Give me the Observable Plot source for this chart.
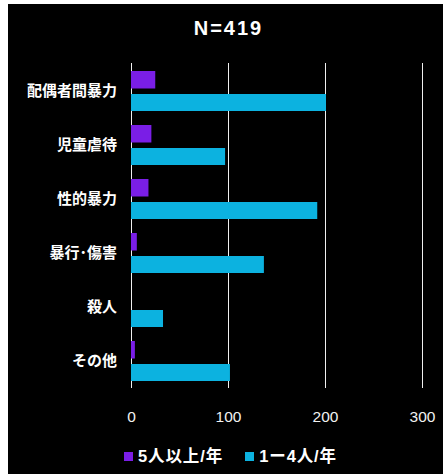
<!DOCTYPE html>
<html>
<head>
<meta charset="utf-8">
<script src="https://cdn.jsdelivr.net/npm/d3@7"></script>
<script src="https://cdn.jsdelivr.net/npm/@observablehq/plot@0.6"></script>
<style>
  html, body { margin: 0; padding: 0; background: #ffffff; }
  body { width: 443px; height: 474px; position: relative; overflow: hidden;
         font-family: "Liberation Sans", "Noto Sans CJK JP", sans-serif; }
  #frame { position: absolute; left: 8px; top: 4px; width: 435px; height: 470px; background: #000; overflow: hidden; }
  #title { position: absolute; left: 0; top: 0; width: 435px; padding-left: 6px; box-sizing: border-box;
           text-align: center; line-height: 48px; font-size: 20px; font-weight: bold; color: #fff; letter-spacing: 2px; }
  #chart { position: absolute; left: 0; top: 50px; }
  #legend { position: absolute; left: 0; top: 441px; width: 435px; padding-left: 10px; box-sizing: border-box;
            display: flex; justify-content: center; align-items: center; color: #fff;
            font-size: 16.5px; font-weight: bold; letter-spacing: 0.9px; line-height: 22px; }
  .item { display: flex; align-items: center; }
  .item + .item { margin-left: 22px; }
  .sw { width: 9px; height: 9px; margin-right: 5px; }
</style>
</head>
<body>
<div id="frame">
  <div id="title"></div>
  <div id="chart"></div>
  <div id="legend"></div>
</div>
<script>
const title = "N=419";
const categories = ["配偶者間暴力", "児童虐待", "性的暴力", "暴行･傷害", "殺人", "その他"];
const seriesNames = ["5人以上/年", "1ー4人/年"];
const fivePlus = [25, 21, 18, 6, 0, 4];
const oneToFour = [201, 97, 192, 137, 33, 102];
const xTicks = [0, 100, 200, 300];
const colors = ["#7a1ee6", "#0cb2e0"];

const rows = categories.map((c, i) => ({category: c, five: fivePlus[i], one: oneToFour[i]}));

document.getElementById("title").textContent = title;

const chart = Plot.plot({
  width: 435,
  height: 374,
  marginTop: 9,
  marginBottom: 40,
  marginLeft: 123,
  marginRight: 21,
  style: {background: "transparent", color: "#ffffff", fontFamily: "'Liberation Sans', 'Noto Sans CJK JP', sans-serif"},
  x: {domain: [0, 300], axis: null, label: null},
  y: {domain: categories, padding: 0, axis: null, label: null},
  marks: [
    Plot.gridX(xTicks, {stroke: "#f0f0f0", strokeOpacity: 1, strokeWidth: 1}),
    Plot.barX(rows, {x: "five", y: "category", fill: colors[0], insetTop: 7, insetBottom: 29.5}),
    Plot.barX(rows, {x: "one", y: "category", fill: colors[1], insetTop: 30, insetBottom: 7}),
    Plot.axisX(xTicks, {anchor: "bottom", label: null, tickSize: 0, tickPadding: 22, fontSize: 15.5, fill: "#f2f2f2", style: "letter-spacing:1.3px"}),
    Plot.axisY(categories, {anchor: "left", label: null, tickSize: 0, tickPadding: 14.5, fontSize: 15, fontWeight: "bold", fill: "#ffffff", style: "letter-spacing:0.8px"})
  ]
});
document.getElementById("chart").appendChild(chart);

const legend = document.getElementById("legend");
seriesNames.forEach((name, i) => {
  const item = document.createElement("div");
  item.className = "item";
  const sw = document.createElement("div");
  sw.className = "sw";
  sw.style.background = colors[i];
  const label = document.createElement("span");
  label.textContent = name;
  item.appendChild(sw);
  item.appendChild(label);
  legend.appendChild(item);
});
</script>
</body>
</html>
